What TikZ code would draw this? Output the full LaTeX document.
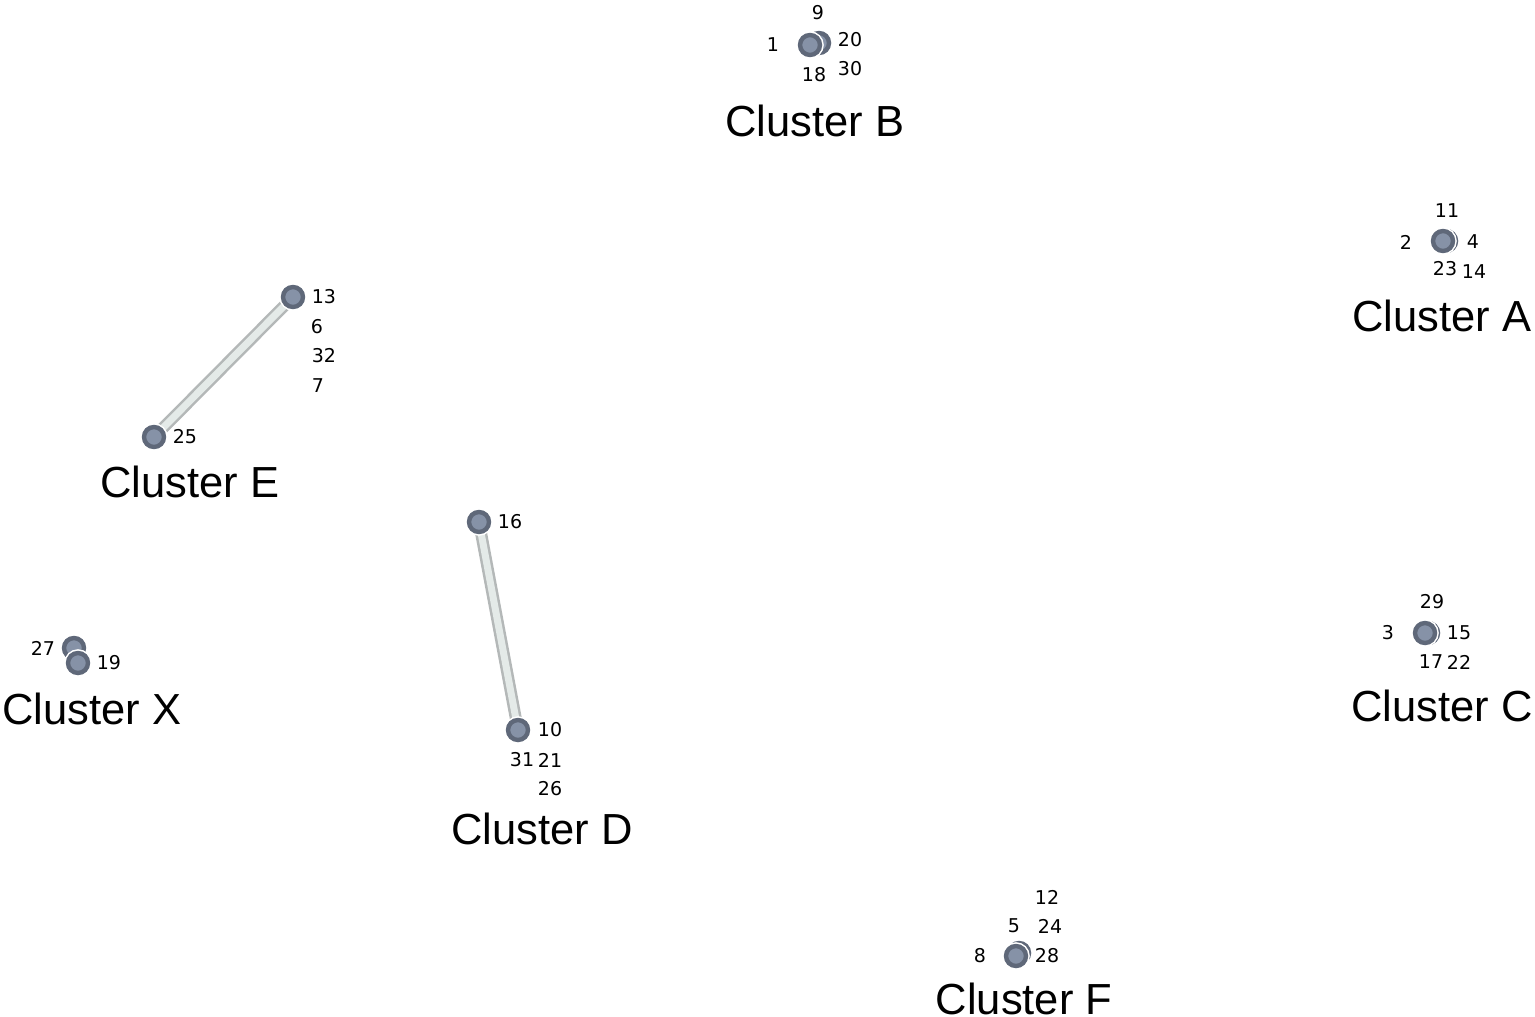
\documentclass[tikz,border=0pt]{standalone}
\usepackage{fontspec}
\setmainfont{Liberation Sans}
\newfontfamily\numfont{DejaVu Sans}
\usetikzlibrary{backgrounds}
\definecolor{nodering}{HTML}{5F6879}
\definecolor{nodefill}{HTML}{8692A7}
\definecolor{edgeout}{HTML}{B4B8B8}
\definecolor{edgein}{HTML}{E4EAE8}
\tikzset{
  nd/.style={circle, minimum size=20pt, inner sep=0pt, fill=nodefill, draw=nodering, line width=4.4pt,
             preaction={draw=white, line width=7.5pt}},
  backnd/.style={nd},
  num/.style={inner sep=0pt, font=\numfont\fontsize{19}{19}\selectfont},
  clab/.style={inner sep=0pt, font=\fontsize{43.5}{43.5}\selectfont},
  edgeline/.style={draw=edgeout, line width=12pt, postaction={draw=edgein, line width=7pt}}
}
\begin{document}
\begin{tikzpicture}[x=1pt,y=-1pt]
\useasboundingbox (0,0) rectangle (1535,1017);
% Cluster B
\node[backnd] (b2) at (819,43) {};
\node[nd] (b1) at (810,45) {};
\node[num] (l1) at (773,45) {1};
\node[num] (l9) at (818,13) {9};
\node[num] (l20) at (850,40) {20};
\node[num] (l18) at (814,75) {18};
\node[num] (l30) at (850,69) {30};
\node[clab] (cb) at (815,121) {Cluster B};
% Cluster A
\node[backnd] (a2) at (1446,241) {};
\node[nd] (a1) at (1443,241) {};
\node[num] (l11) at (1447,211) {11};
\node[num] (l2) at (1406,242) {2};
\node[num] (l4) at (1473,242) {4};
\node[num] (l23) at (1445,269) {23};
\node[num] (l14) at (1474,272) {14};
\node[clab] (ca) at (1442,316) {Cluster A};
% Cluster E
\node[nd] (n13) at (293,297) {};
\node[nd] (n25) at (154,437) {};
\node[num] (l13) at (324,297) {13};
\node[num] (l6) at (317,327) {6};
\node[num] (l32) at (324,356) {32};
\node[num] (l7) at (318,386) {7};
\node[num] (l25) at (185,437) {25};
\node[clab] (ce) at (190,482) {Cluster E};
% Cluster D
\node[nd] (n16) at (479,522) {};
\node[nd] (n10) at (518,730) {};
\node[num] (l16) at (510,522) {16};
\node[num] (l10) at (550,730) {10};
\node[num] (l31) at (522,760) {31};
\node[num] (l21) at (550,760) {21};
\node[num] (l26) at (550,789) {26};
\node[clab] (cd) at (542,829) {Cluster D};
% Cluster X
\node[nd] (n27) at (74,648) {};
\node[nd] (n19) at (78,663) {};
\node[num] (l27) at (43,648) {27};
\node[num] (l19) at (109,663) {19};
\node[clab] (cx) at (92,709) {Cluster X};
% Cluster C
\node[backnd] (c2) at (1428,633) {};
\node[nd] (c1) at (1425,633) {};
\node[num] (l29) at (1432,602) {29};
\node[num] (l3) at (1388,633) {3};
\node[num] (l15) at (1459,633) {15};
\node[num] (l17) at (1431,662) {17};
\node[num] (l22) at (1459,662) {22};
\node[clab] (cc) at (1442,706) {Cluster C};
% Cluster F
\node[backnd] (f2) at (1019,953) {};
\node[nd] (f1) at (1016,956) {};
\node[num] (l12) at (1047,897) {12};
\node[num] (l5) at (1014,926) {5};
\node[num] (l24) at (1050,926) {24};
\node[num] (l8) at (980,956) {8};
\node[num] (l28) at (1047,956) {28};
\node[clab] (cf) at (1024,999) {Cluster F};
% edges
\begin{pgfonlayer}{background}
\fill[white] (0,0) rectangle (1535,1017);
\path[edgeline] (n13.center) -- (n25.center);
\path[edgeline] (n16.center) -- (n10.center);
\end{pgfonlayer}
\end{tikzpicture}
\end{document}
